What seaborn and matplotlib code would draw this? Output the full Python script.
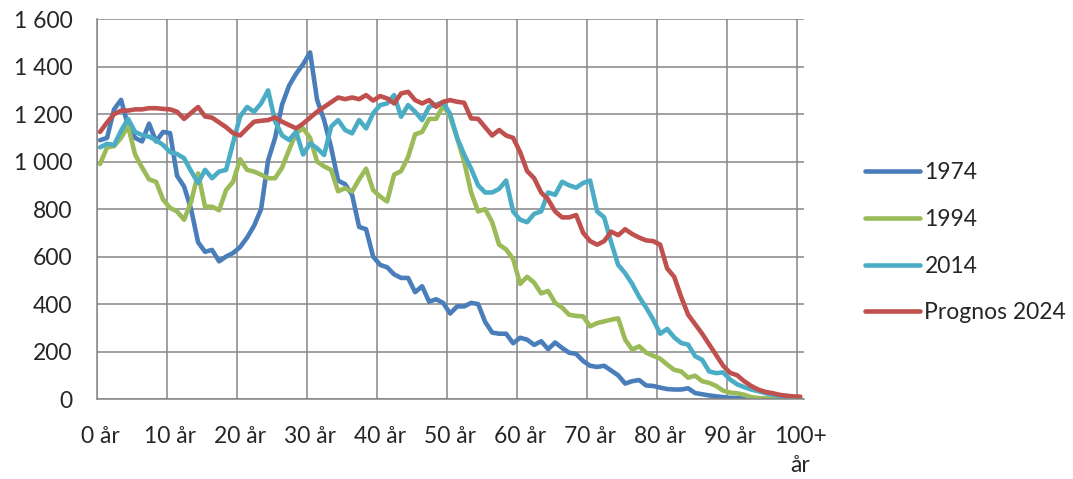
import numpy as np
import pandas as pd
import matplotlib
matplotlib.use("Agg")
import matplotlib.pyplot as plt
import seaborn as sns
from matplotlib.ticker import FuncFormatter

# ages 0..100+ (one category per year)
ages = np.arange(101)
xlabels = ["0 år", "10 år", "20 år", "30 år", "40 år", "50 år", "60 år",
           "70 år", "80 år", "90 år", "100+\når"]

y1974 = [1090, 1100, 1220, 1260, 1150, 1100, 1085, 1160, 1085, 1125,
         1120, 940, 895, 800, 660, 620, 628, 580, 600, 615,
         640, 680, 730, 800, 1005, 1100, 1240, 1320, 1370, 1410,
         1460, 1260, 1175, 1060, 920, 905, 860, 725, 715, 600,
         565, 555, 525, 510, 510, 450, 475, 410, 420, 405,
         360, 390, 390, 405, 400, 325, 280, 275, 275, 235,
         258, 250, 228, 243, 210, 238, 215, 195, 190, 160,
         140, 135, 140, 120, 100, 65, 75, 80, 57, 55,
         48, 42, 40, 40, 45, 25, 20, 15, 11, 8,
         5, 4, 3, 2, 1, 1, 0, 0, 0, 0, 0]

y1994 = [990, 1060, 1065, 1100, 1150, 1030, 975, 925, 915, 840,
         805, 790, 755, 830, 950, 810, 810, 795, 880, 915,
         1010, 965, 958, 945, 930, 930, 975, 1050, 1120, 1140,
         1100, 1000, 980, 965, 875, 888, 874, 925, 970, 880,
         853, 832, 945, 960, 1020, 1115, 1125, 1180, 1180, 1235,
         1190, 1100, 1000, 870, 790, 800, 745, 650, 630, 590,
         485, 515, 490, 445, 455, 405, 385, 355, 350, 348,
         306, 320, 327, 334, 340, 250, 208, 222, 195, 182,
         170, 145, 123, 116, 90, 98, 75, 68, 55, 35,
         27, 24, 18, 8, 4, 2, 1, 0, 0, 0, 0]

y2014 = [1060, 1075, 1070, 1130, 1180, 1125, 1112, 1105, 1090, 1070,
         1040, 1032, 1014, 960, 910, 965, 930, 958, 965, 1080,
         1190, 1230, 1210, 1245, 1300, 1170, 1110, 1091, 1126, 1030,
         1077, 1056, 1028, 1147, 1175, 1133, 1119, 1175, 1140, 1203,
         1238, 1245, 1280, 1189, 1238, 1210, 1175, 1231, 1240, 1250,
         1200, 1100, 1030, 970, 900, 870, 870, 885, 920, 790,
         755, 745, 780, 790, 870, 860, 915, 900, 890, 910,
         920, 790, 765, 660, 565, 530, 485, 430, 385, 335,
         275, 295, 260, 236, 229, 180, 165, 116, 109, 112,
         82, 62, 50, 40, 33, 25, 18, 13, 8, 5, 4]

y2024 = [1125, 1165, 1200, 1215, 1215, 1220, 1220, 1225, 1225, 1222,
         1220, 1210, 1180, 1205, 1230, 1190, 1185, 1165, 1145, 1120,
         1110, 1140, 1168, 1172, 1175, 1186, 1168, 1154, 1140, 1160,
         1185, 1210, 1230, 1250, 1270, 1263, 1270, 1263, 1280, 1257,
         1276, 1266, 1245, 1287, 1294, 1259, 1245, 1259, 1231, 1252,
         1259, 1252, 1248, 1182, 1180, 1145, 1110, 1133, 1110, 1100,
         1040, 960, 930, 870, 840, 790, 765, 765, 775, 700,
         665, 650, 665, 705, 690, 715, 695, 680, 668, 665,
         650, 550, 515, 430, 355, 315, 275, 230, 185, 140,
         110, 100, 75, 55, 40, 30, 25, 18, 14, 11, 10]

series = ["1974", "1994", "2014", "Prognos 2024"]
colors = ["#4A7EBB", "#9BBB59", "#4BACC6", "#C0504D"]

df = pd.concat([
    pd.DataFrame({"age": ages, "antal": vals, "serie": name})
    for name, vals in zip(series, [y1974, y1994, y2014, y2024])
])
# category axis: each point sits in the middle of its year slot
df["pos"] = df["age"] + 0.5

sns.set_style("white")
plt.rcParams["font.family"] = ["Lato", "DejaVu Sans"]
grid_col = "#868686"
fs = 16.5

fig = plt.figure(figsize=(10.73, 4.79), dpi=100)
ax = fig.add_axes([0.090, 0.167, 0.659, 0.793])

sns.lineplot(data=df, x="pos", y="antal", hue="serie", hue_order=series,
             palette=dict(zip(series, colors)), linewidth=3.3, ax=ax,
             solid_joinstyle="round", solid_capstyle="round")

ax.set_xlim(0, 101)
ax.set_ylim(0, 1600)
ax.set_xlabel("")
ax.set_ylabel("")

ax.set_yticks(range(0, 1601, 200))
ax.yaxis.set_major_formatter(FuncFormatter(lambda v, p: f"{int(v):,}".replace(",", " ")))

ax.set_xticks(range(0, 101, 10))
ax.set_xticklabels([])
ax.set_xticks(np.arange(0, 101, 10) + 0.5, minor=True)
ax.set_xticklabels(xlabels, minor=True, fontsize=fs, multialignment="center",
                   linespacing=1.45)

ax.tick_params(axis="both", which="major", direction="out", length=6.5, width=1.1,
               color=grid_col, labelsize=fs, pad=11)
ax.tick_params(axis="x", which="minor", length=0, pad=19.5)

ax.grid(True, which="major", color=grid_col, linewidth=1.1)
for side in ["top", "right"]:
    ax.spines[side].set_visible(False)
for side in ["left", "bottom"]:
    ax.spines[side].set_color(grid_col)
    ax.spines[side].set_linewidth(1.1)

sns.move_legend(ax, "center left", bbox_to_anchor=(0.806, 0.493),
                bbox_transform=fig.transFigure, frameon=False, title=None,
                fontsize=fs, handlelength=2.4, handletextpad=0.2,
                labelspacing=1.12, borderpad=0, borderaxespad=0)
for line in ax.get_legend().get_lines():
    line.set_linewidth(3.3)
    line.set_solid_capstyle("round")

fig.savefig("out.png", dpi=100)
